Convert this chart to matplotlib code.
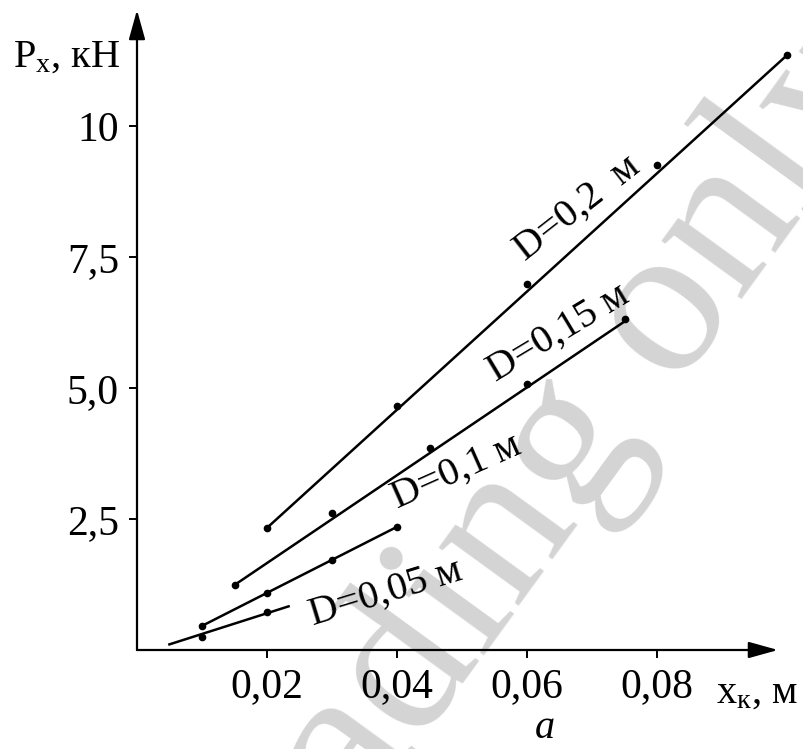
import matplotlib
matplotlib.use('Agg')
import matplotlib.pyplot as plt

plt.rcParams['font.family'] = ['Liberation Serif', 'DejaVu Serif']
plt.rcParams['mathtext.fontset'] = 'custom'
plt.rcParams['mathtext.rm'] = 'Liberation Serif'
plt.rcParams['mathtext.it'] = 'Liberation Serif:italic'

# measured points (x_k in m, P_x in kN)
x_005 = [0.01, 0.02]
p_005 = [0.25, 0.73]
x_01 = [0.01, 0.02, 0.03, 0.04]
p_01 = [0.46, 1.09, 1.71, 2.35]
x_015 = [0.015, 0.03, 0.045, 0.06, 0.075]
p_015 = [1.24, 2.61, 3.86, 5.07, 6.31]
x_02 = [0.02, 0.04, 0.06, 0.08, 0.1]
p_02 = [2.33, 4.66, 6.98, 9.26, 11.35]

# fitted straight lines (start, end)
fit_x_005 = [0.0048, 0.0235]
fit_p_005 = [0.10, 0.84]
fit_x_01 = [0.01, 0.04]
fit_p_01 = [0.46, 2.35]
fit_x_015 = [0.015, 0.0755]
fit_p_015 = [1.24, 6.31]
fit_x_02 = [0.02, 0.1]
fit_p_02 = [2.33, 11.35]

labels = ['D=0,05 м', 'D=0,1 м', 'D=0,15 м', 'D=0,2  м']
label_x = [0.0382, 0.0492, 0.0649, 0.0678]
label_p = [1.10, 3.41, 6.05, 8.44]
label_rot = [17, 24, 31, 38]

xticks = [0.02, 0.04, 0.06, 0.08]
xtick_labels = ['0,02', '0,04', '0,06', '0,08']
yticks = [2.5, 5.0, 7.5, 10]
ytick_labels = ['2,5', '5,0', '7,5', '10']

W, H = 804, 749
fig = plt.figure(figsize=(W / 100, H / 100), dpi=100)
ax = fig.add_axes([137 / W, (H - 650) / H, 641 / W, 640 / H])
ax.set_facecolor('none')

# watermark
fig.text(520 / W, 1 - 518 / H, 'Reading only', rotation=54, fontsize=156,
         color='#d4d4d4', ha='center', va='center', zorder=-5)

series = [(x_005, p_005, fit_x_005, fit_p_005),
          (x_01, p_01, fit_x_01, fit_p_01),
          (x_015, p_015, fit_x_015, fit_p_015),
          (x_02, p_02, fit_x_02, fit_p_02)]
for xs, ps, fx, fp in series:
    ax.plot(fx, fp, color='black', lw=1.8, solid_capstyle='butt', clip_on=False)
    ax.plot(xs, ps, 'o', color='black', ms=4.5, clip_on=False)

for txt, lx, lp, rot in zip(labels, label_x, label_p, label_rot):
    ax.text(lx, lp, txt, rotation=rot, fontsize=29, ha='center', va='center',
            rotation_mode='anchor')

ax.set_xlim(0, 0.0986)
ax.set_ylim(0, 12.21)
for s in ['top', 'right', 'left', 'bottom']:
    ax.spines[s].set_visible(False)

# axes with arrows
ax.annotate('', xy=(1, 0), xytext=(0, 0), xycoords='axes fraction',
            arrowprops=dict(arrowstyle='-|>,head_length=0.9,head_width=0.25',
                            lw=1.6, color='black', mutation_scale=20,
                            shrinkA=0, shrinkB=0))
ax.annotate('', xy=(0, 1), xytext=(0, 0), xycoords='axes fraction',
            arrowprops=dict(arrowstyle='-|>,head_length=0.9,head_width=0.25',
                            lw=1.6, color='black', mutation_scale=20,
                            shrinkA=0, shrinkB=0))

ax.set_xticks(xticks)
ax.set_xticklabels(xtick_labels)
ax.set_yticks(yticks)
ax.set_yticklabels(ytick_labels)
ax.tick_params(axis='both', direction='out', length=6, width=1.4,
               labelsize=30, colors='black')
ax.tick_params(axis='x', pad=7)
ax.tick_params(axis='y', pad=7)

fig.text(13 / W, 1 - 67 / H, r'P$_\mathregular{x}$, кН', fontsize=29,
         ha='left', va='baseline')
fig.text(716 / W, 1 - 703 / H, r'x$_\mathregular{к}$, м', fontsize=29,
         ha='left', va='baseline')
fig.text(545 / W, 1 - 738 / H, 'a', fontsize=29, style='italic',
         ha='center', va='baseline')

fig.savefig('out.png', dpi=100)
